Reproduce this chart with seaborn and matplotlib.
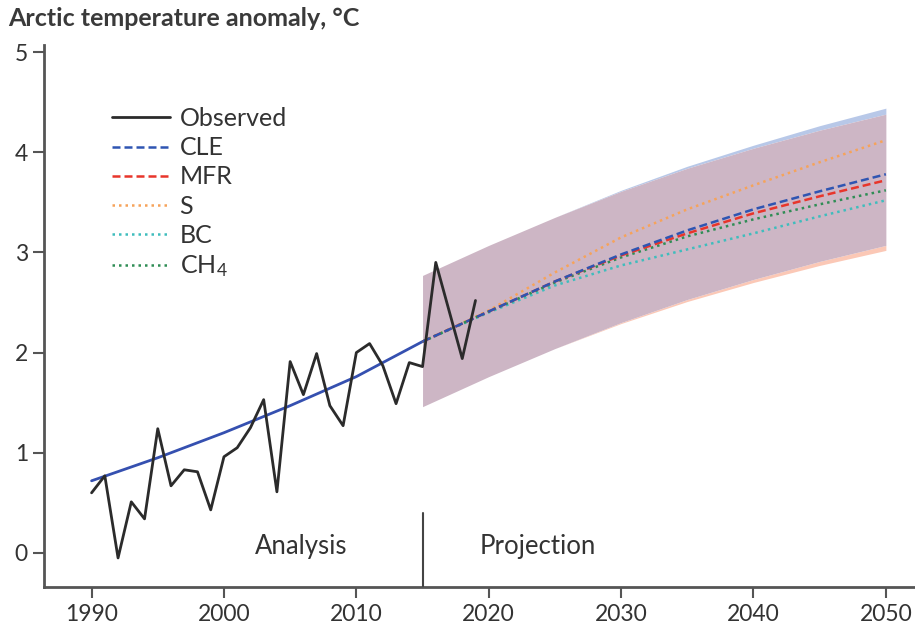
import numpy as np
import pandas as pd
import matplotlib
matplotlib.use("Agg")
import matplotlib.pyplot as plt
import seaborn as sns

# ---------------- data ----------------
obs_years = list(range(1990, 2020))
obs_values = [0.60, 0.77, -0.05, 0.51, 0.34, 1.24, 0.67, 0.83, 0.81, 0.43,
              0.96, 1.05, 1.25, 1.53, 0.61, 1.91, 1.58, 1.99, 1.47, 1.27,
              2.00, 2.09, 1.87, 1.49, 1.90, 1.86, 2.90, 2.42, 1.94, 2.52]

fit_years = [1990, 1995, 2000, 2005, 2010, 2015]
fit_values = [0.72, 0.95, 1.20, 1.47, 1.76, 2.11]

proj_years = [2015, 2020, 2025, 2030, 2035, 2040, 2045, 2050]
cle_values = [2.11, 2.41, 2.71, 2.98, 3.22, 3.43, 3.61, 3.78]
mfr_values = [2.11, 2.41, 2.71, 2.97, 3.19, 3.39, 3.56, 3.72]
s_values   = [2.11, 2.42, 2.80, 3.15, 3.43, 3.67, 3.90, 4.12]
bc_values  = [2.11, 2.40, 2.67, 2.87, 3.03, 3.19, 3.36, 3.52]
ch4_values = [2.11, 2.41, 2.70, 2.95, 3.16, 3.33, 3.48, 3.62]

band_low   = [1.46, 1.76, 2.04, 2.30, 2.53, 2.73, 2.91, 3.07]
band_high  = [2.77, 3.07, 3.35, 3.61, 3.84, 4.04, 4.22, 4.38]
cle_high   = [2.77, 3.07, 3.35, 3.62, 3.86, 4.07, 4.265, 4.44]
mfr_low    = [1.46, 1.76, 2.04, 2.29, 2.51, 2.70, 2.87, 3.02]

x_ticks = [1990, 2000, 2010, 2020, 2030, 2040, 2050]
y_ticks = [0, 1, 2, 3, 4, 5]

# ---------------- style ----------------
sns.set_style("ticks")
plt.rcParams['font.family'] = ['Lato', 'DejaVu Sans']
plt.rcParams['mathtext.default'] = 'regular'
txt = '#333333'
spine_c = '#555555'

fig = plt.figure(figsize=(9.15, 6.28), dpi=100)
ax = fig.add_axes([0.048, 0.0653, 0.952, 0.8630])

# band
ax.fill_between(proj_years, band_high, cle_high, color='#b8c8e8', lw=0, zorder=1)
ax.fill_between(proj_years, mfr_low, band_low, color='#fbc8b6', lw=0, zorder=1)
ax.fill_between(proj_years, band_low, band_high, color='#cdb6c5', lw=0, zorder=1)

proj = pd.DataFrame({'year': proj_years, 'CLE': cle_values, 'MFR': mfr_values,
                     'S': s_values, 'BC': bc_values, 'CH4': ch4_values})
obs = pd.DataFrame({'year': obs_years, 'value': obs_values})
fit = pd.DataFrame({'year': fit_years, 'value': fit_values})

sns.lineplot(data=fit, x='year', y='value', ax=ax, color='#3550b0', lw=2.0, zorder=4)
sns.lineplot(data=obs, x='year', y='value', ax=ax, color='#2b2b2b', lw=2.0,
             zorder=5, label='Observed')

styles = [
    ('CLE', '#2f55b2', (3.2, 1.6), 'CLE', 4.4),
    ('MFR', '#e8352b', (3.2, 1.6), 'MFR', 4.3),
    ('S', '#f6a35a', (1.0, 1.6), 'S', 4.0),
    ('BC', '#3fbdbd', (1.0, 1.6), 'BC', 4.0),
    ('CH4', '#2f8d55', (1.0, 1.6), 'CH$_4$', 4.1),
]
for col, c, dash, lab, z in styles:
    sns.lineplot(data=proj, x='year', y=col, ax=ax, color=c, lw=1.8, zorder=z,
                 label=lab)
    ax.lines[-1].set_dashes(dash)

ymin, ymax = -0.34, 5.07

# analysis / projection divider
ax.plot([2015, 2015], [ymin, 0.40], color='#444444', lw=1.5, zorder=3)
ax.text(2005.8, 0.06, 'Analysis', ha='center', va='center', fontsize=18.5, color=txt)
ax.text(2023.7, 0.06, 'Projection', ha='center', va='center', fontsize=18.5, color=txt)

# axes
ax.set_xlim(1986.4, 2052.2)
ax.set_ylim(ymin, ymax)
ax.set_xticks(x_ticks)
ax.set_yticks(y_ticks)
ax.set_xlabel('')
ax.set_ylabel('')
ax.tick_params(axis='both', labelsize=16.5, colors=spine_c, labelcolor=txt,
               width=1.5, length=8, direction='out')
ax.tick_params(axis='x', pad=4)
for s in ['top', 'right']:
    ax.spines[s].set_visible(False)
for s in ['left', 'bottom']:
    ax.spines[s].set_color(spine_c)
    ax.spines[s].set_linewidth(2.0)

# legend
h, l = ax.get_legend_handles_labels()
leg = ax.legend(h, l, loc='upper left', bbox_to_anchor=(112 / 915, 1 - 107 / 628),
                bbox_transform=fig.transFigure, frameon=False, fontsize=18,
                handlelength=2.3, handletextpad=0.4, labelspacing=0.25,
                borderpad=0, borderaxespad=0)
for t in leg.get_texts():
    t.set_color(txt)

fig.text(8 / 915, 1 - 18 / 628, 'Arctic temperature anomaly, °C', ha='left',
         va='center', fontsize=18, fontweight='bold', color='#3a3a3a')

fig.savefig('out.png', dpi=100)
